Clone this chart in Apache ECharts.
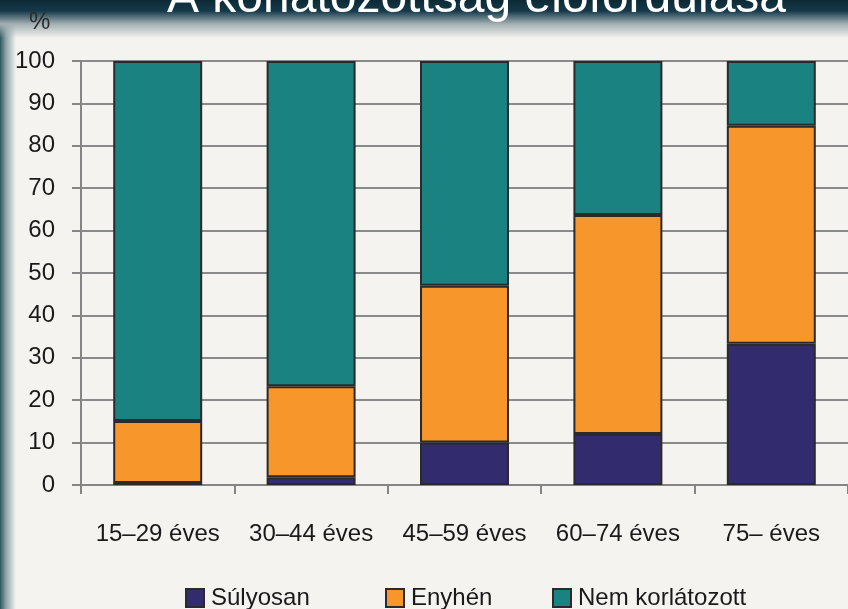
<!DOCTYPE html>
<html>
<head>
<meta charset="utf-8">
<script src="https://cdn.jsdelivr.net/npm/echarts@6/dist/echarts.min.js"></script>
<style>
  html, body { margin: 0; padding: 0; }
  body {
    width: 848px; height: 609px; overflow: hidden;
    background:
      linear-gradient(to bottom, #0c2a35 0px, #15394a 11px, #a3b0b3 24px, rgba(245,243,240,0) 38px),
      linear-gradient(to right, #2d5660 0px, #8fa4a8 6px, rgba(245,243,240,0) 16px),
      #f5f3f0;
  }
  #chart { width: 848px; height: 609px; }
</style>
</head>
<body>
<div id="chart"></div>
<script>
  var categories = ['15–29 éves', '30–44 éves', '45–59 éves', '60–74 éves', '75– éves'];
  var sulyosan = [0.5, 1.8, 10.0, 12.0, 33.3];
  var enyhen = [14.6, 21.5, 37.0, 51.7, 51.4];
  var nemKorlatozott = [84.9, 76.7, 53.0, 36.3, 15.3];
  var yTicks = [0, 10, 20, 30, 40, 50, 60, 70, 80, 90, 100];

  var font = "'Liberation Sans', Arial, sans-serif";
  var border = { borderColor: '#2a2a2a', borderWidth: 2 };

  var myChart = echarts.init(document.getElementById('chart'));

  function legendFor(name, left) {
    return {
      data: [name],
      left: left,
      top: 581,
      icon: 'rect',
      itemWidth: 18,
      itemHeight: 18,
      itemGap: 0,
      textStyle: { fontFamily: font, fontSize: 24, color: '#1a1a1a', padding: [0, 0, 0, 2] }
    };
  }

  myChart.setOption({
    animation: false,
    backgroundColor: 'transparent',
    title: {
      text: 'A korlátozottság előfordulása',
      left: 162,
      top: -30,
      textStyle: { color: '#ffffff', fontSize: 48, fontWeight: 'normal', fontFamily: font }
    },
    graphic: [{
      type: 'text',
      left: 29,
      top: 10,
      style: { text: '%', fontFamily: font, fontSize: 24, fill: '#2a2a2a' }
    }],
    legend: [
      legendFor('Súlyosan', 180),
      legendFor('Enyhén', 380),
      legendFor('Nem korlátozott', 547)
    ],
    grid: { left: 81, top: 61, width: 773, bottom: 124 },
    xAxis: {
      type: 'category',
      data: categories,
      axisLine: { lineStyle: { color: '#858585', width: 2 } },
      axisTick: { show: true, interval: 0, length: 9, lineStyle: { color: '#858585', width: 2 } },
      axisLabel: { interval: 0, margin: 37, fontFamily: font, fontSize: 24, color: '#1a1a1a' }
    },
    yAxis: {
      type: 'value',
      min: yTicks[0],
      max: yTicks[yTicks.length - 1],
      interval: 10,
      axisLine: { show: true, lineStyle: { color: '#858585', width: 2 } },
      axisTick: { show: true, length: 9, lineStyle: { color: '#858585', width: 2 } },
      axisLabel: { margin: 26, fontFamily: font, fontSize: 24, color: '#1a1a1a' },
      splitLine: { lineStyle: { color: '#8a8a8a', width: 2 } }
    },
    series: [
      {
        name: 'Súlyosan', type: 'bar', stack: 'total', barWidth: '58%',
        itemStyle: Object.assign({ color: '#322c6e' }, border),
        data: sulyosan
      },
      {
        name: 'Enyhén', type: 'bar', stack: 'total',
        itemStyle: Object.assign({ color: '#f7962b' }, border),
        data: enyhen
      },
      {
        name: 'Nem korlátozott', type: 'bar', stack: 'total',
        itemStyle: Object.assign({ color: '#1b8282' }, border),
        data: nemKorlatozott
      }
    ]
  });
</script>
</body>
</html>
